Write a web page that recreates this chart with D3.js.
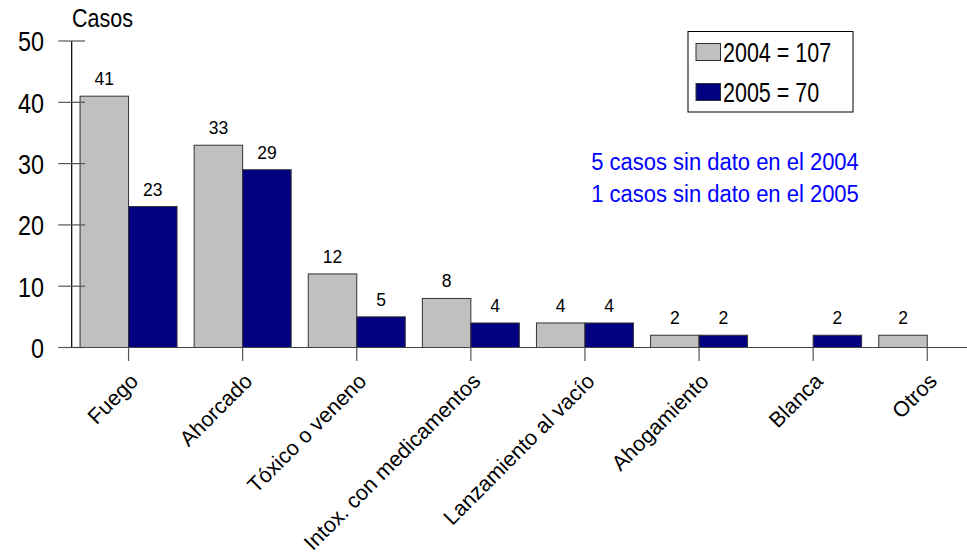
<!DOCTYPE html>
<html>
<head>
<meta charset="utf-8">
<script src="https://cdn.jsdelivr.net/npm/d3@7"></script>
<style>
  html, body { margin: 0; padding: 0; background: #fff; }
  svg { display: block; }
  text { font-family: "Liberation Sans", Arial, sans-serif; }
</style>
</head>
<body>
<div id="chart"></div>
<script>
// ---- data ----
const categories = ["Fuego", "Ahorcado", "Tóxico o veneno", "Intox. con medicamentos",
  "Lanzamiento al vacío", "Ahogamiento", "Blanca", "Otros"];
const series = ["2004", "2005"];
const values2004 = [41, 33, 12, 8, 4, 2, null, 2];
const values2005 = [23, 29, 5, 4, 4, 2, 2, null];
const legendLabels = ["2004 = 107", "2005 = 70"];
const yTicks = [0, 10, 20, 30, 40, 50];
const yTitle = "Casos";
const notes = ["5 casos sin dato en el 2004", "1 casos sin dato en el 2005"];
const colors = ["#c0c0c0", "#000080"];

const W = 967, H = 557;
const svg = d3.select("#chart").append("svg").attr("width", W).attr("height", H);

const axisX = 71.7;
const y = d3.scaleLinear().domain([0, 50]).range([347.5, 41]);
const x0 = d3.scaleBand().domain(categories).range([71.5, 71.5 + 8 * 114.1])
  .paddingInner(0.15).paddingOuter(0.075);
const x1 = d3.scaleBand().domain(series).range([0, x0.bandwidth()]);

const rows = categories.map((c, i) => ({ cat: c, vals: [values2004[i], values2005[i]] }));

// helper: horizontally placed text, slightly stretched vertically like the reference
function stext(parent, x, yb, size, sy, anchor, fill, str) {
  return parent.append("text")
    .attr("transform", `translate(${x},${yb}) scale(1,${sy})`)
    .attr("text-anchor", anchor).attr("font-size", size).attr("fill", fill).text(str);
}

// bars
const g = svg.append("g");
rows.forEach(r => {
  r.vals.forEach((v, j) => {
    if (v == null) return;
    const bx = x0(r.cat) + x1(series[j]);
    g.append("rect")
      .attr("x", bx).attr("y", y(v))
      .attr("width", x1.bandwidth()).attr("height", y(0) - y(v))
      .attr("fill", colors[j]).attr("stroke", "#333").attr("stroke-width", 1);
    stext(g, bx + x1.bandwidth() / 2, y(v) - 11, 17.5, 1.05, "middle", "#000", v);
  });
});

// y axis
svg.append("line").attr("x1", axisX).attr("x2", axisX).attr("y1", y(50)).attr("y2", y(0))
  .attr("stroke", "#000").attr("stroke-width", 1.2);
yTicks.forEach(t => {
  svg.append("line").attr("x1", 58.3).attr("x2", 85).attr("y1", y(t)).attr("y2", y(t))
    .attr("stroke", "#555").attr("stroke-width", 1.2);
  stext(svg, 44, y(t) + 10.3, 23.4, 1.2, "end", "#000", t);
});
stext(svg, 72, 27, 21.5, 1.2, "start", "#000", yTitle);

// x axis
svg.append("line").attr("x1", axisX).attr("x2", W).attr("y1", y(0)).attr("y2", y(0))
  .attr("stroke", "#444").attr("stroke-width", 1.2);
categories.forEach(c => {
  const cx = x0(c) + x0.bandwidth() / 2;
  svg.append("line").attr("x1", cx).attr("x2", cx).attr("y1", y(0)).attr("y2", y(0) + 13.5)
    .attr("stroke", "#555").attr("stroke-width", 1.2);
  svg.append("text")
    .attr("transform", `translate(${cx + 11},${y(0) + 35}) rotate(-45)`)
    .attr("text-anchor", "end").attr("font-size", 21.5).attr("fill", "#000").text(c);
});

// legend
const lg = svg.append("g");
lg.append("rect").attr("x", 688).attr("y", 31.5).attr("width", 165).attr("height", 80.5)
  .attr("fill", "#fff").attr("stroke", "#000").attr("stroke-width", 1);
legendLabels.forEach((l, i) => {
  const yy = 43.5 + i * 40;
  lg.append("rect").attr("x", 696).attr("y", yy).attr("width", 24.5).attr("height", 17)
    .attr("fill", colors[i]).attr("stroke", "#333").attr("stroke-width", 1);
  stext(lg, 723, yy + 18, 21.5, 1.3, "start", "#000", l);
});

// notes
notes.forEach((n, i) => {
  stext(svg, 725, 169.5 + i * 32, 22, 1.1, "middle", "#0000ff", n);
});
</script>
</body>
</html>
